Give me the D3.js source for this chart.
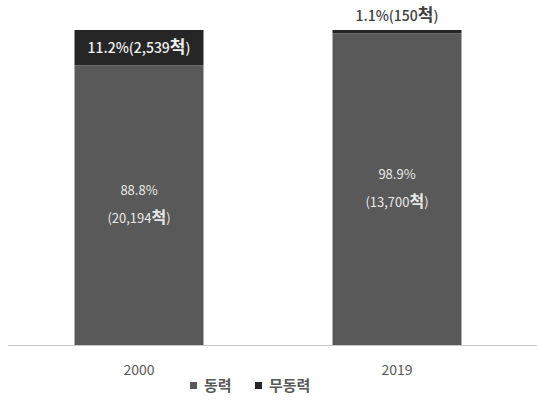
<!DOCTYPE html>
<html>
<head>
<meta charset="utf-8">
<script src="https://cdn.jsdelivr.net/npm/d3@7"></script>
<style>
  html, body { margin: 0; padding: 0; background: #fff; }
  svg text { font-family: "Noto Sans CJK KR", "Noto Sans", sans-serif; }
</style>
</head>
<body>
<svg id="chart" width="537" height="401"></svg>
<script>
// Vessel counts by propulsion type
const years = ["2000", "2019"];
const seriesNames = ["동력", "무동력"];
const poweredPct = [88.8, 98.9];
const unpoweredPct = [11.2, 1.1];
const poweredCount = ["20,194", "13,700"];
const unpoweredCount = ["2,539", "150"];
const colors = ["#595959", "#262626"];

const svg = d3.select("#chart");

const x = d3.scaleBand().domain(years).range([10, 526]).paddingInner(0.5).paddingOuter(0.25);
const y = d3.scaleLinear().domain([0, 100]).range([345, 30]);

const rows = years.map((yr, i) => ({ year: yr, "동력": poweredPct[i], "무동력": unpoweredPct[i] }));
const stacked = d3.stack().keys(seriesNames)(rows);

svg.append("g").selectAll("g").data(stacked).join("g")
  .attr("fill", (d, i) => colors[i])
  .selectAll("rect").data(d => d).join("rect")
  .attr("x", d => x(d.data.year))
  .attr("width", x.bandwidth())
  .attr("y", d => y(d[1]))
  .attr("height", d => y(d[0]) - y(d[1]));

// baseline
svg.append("line")
  .attr("x1", 8).attr("x2", 537)
  .attr("y1", y(0) + 0.5).attr("y2", y(0) + 0.5)
  .attr("stroke", "#c8c8c8").attr("stroke-width", 1);

// year labels
svg.append("g").selectAll("text").data(years).join("text")
  .attr("x", d => x(d) + x.bandwidth() / 2)
  .attr("y", 375)
  .attr("text-anchor", "middle")
  .attr("font-size", 14)
  .attr("fill", "#595959")
  .text(d => d);

// writes "prefix" + larger 척 + "suffix" into a text element
function countLabel(sel, prefix, suffix, size, bigSize) {
  sel.append("tspan").attr("font-size", size).text(prefix);
  sel.append("tspan").attr("font-size", bigSize).attr("font-weight", 700).text("척");
  sel.append("tspan").attr("font-size", size).text(suffix);
}

// powered segment labels (two lines, centred in segment)
years.forEach((yr, i) => {
  const cx = x(yr) + x.bandwidth() / 2;
  const cy = (y(0) + y(poweredPct[i])) / 2;
  svg.append("text")
    .attr("x", cx).attr("y", cy - 10)
    .attr("text-anchor", "middle")
    .attr("font-size", 13).attr("fill", "#e8e8e8")
    .text(poweredPct[i].toFixed(1) + "%");
  const t = svg.append("text")
    .attr("x", cx).attr("y", cy + 18)
    .attr("text-anchor", "middle")
    .attr("fill", "#e8e8e8");
  countLabel(t, "(" + poweredCount[i], ")", 13, 16);
});

// unpowered segment labels
years.forEach((yr, i) => {
  const cx = x(yr) + x.bandwidth() / 2;
  const top = y(100);
  const segH = y(poweredPct[i]) - top;
  const inside = segH > 20;
  const t = svg.append("text")
    .attr("x", cx)
    .attr("y", inside ? top + segH / 2 + 5 : top - 9)
    .attr("text-anchor", "middle")
    .attr("font-weight", 500)
    .attr("fill", inside ? "#f0f0f0" : "#404040");
  countLabel(t, unpoweredPct[i].toFixed(1) + "%(" + unpoweredCount[i], ")", 14, 17);
});

// legend
const legend = svg.append("g");
const legendX = [190, 255];
seriesNames.forEach((name, i) => {
  legend.append("rect")
    .attr("x", legendX[i]).attr("y", 382)
    .attr("width", 7).attr("height", 7)
    .attr("fill", colors[i]);
  legend.append("text")
    .attr("x", legendX[i] + 14).attr("y", 391)
    .attr("font-size", 15).attr("font-weight", 700).attr("fill", "#595959")
    .text(name);
});
</script>
</body>
</html>
